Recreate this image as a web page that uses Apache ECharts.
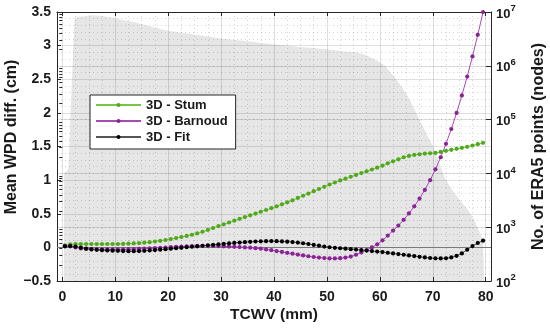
<!DOCTYPE html>
<html><head><meta charset="utf-8">
<script src="https://cdn.jsdelivr.net/npm/echarts@6/dist/echarts.min.js"></script>
<style>html,body{margin:0;padding:0;background:#fff}#c{width:550px;height:329px}</style>
</head><body><div id="c"></div>
<script>
const tcwv = [0.5,1.5,2.5,3.5,4.5,5.5,6.5,7.5,8.5,9.5,10.5,11.5,12.5,13.5,14.5,15.5,16.5,17.5,18.5,19.5,
  20.5,21.5,22.5,23.5,24.5,25.5,26.5,27.5,28.5,29.5,30.5,31.5,32.5,33.5,34.5,35.5,36.5,37.5,38.5,39.5,
  40.5,41.5,42.5,43.5,44.5,45.5,46.5,47.5,48.5,49.5,50.5,51.5,52.5,53.5,54.5,55.5,56.5,57.5,58.5,59.5,
  60.5,61.5,62.5,63.5,64.5,65.5,66.5,67.5,68.5,69.5,70.5,71.5,72.5,73.5,74.5,75.5,76.5,77.5,78.5,79.5];
const stum = [0.03,0.045,0.05,0.05,0.05,0.05,0.05,0.05,0.05,0.05,
  0.05,0.052,0.055,0.059,0.064,0.07,0.078,0.087,0.098,0.11,
  0.123,0.138,0.154,0.17,0.188,0.207,0.232,0.26,0.288,0.316,
  0.343,0.37,0.397,0.424,0.45,0.477,0.503,0.53,0.556,0.583,
  0.61,0.64,0.67,0.70,0.735,0.768,0.80,0.835,0.868,0.90,
  0.935,0.965,0.995,1.022,1.05,1.078,1.105,1.132,1.158,1.185,
  1.215,1.25,1.28,1.31,1.34,1.36,1.375,1.385,1.395,1.40,
  1.405,1.42,1.435,1.45,1.465,1.48,1.495,1.515,1.535,1.555];
const barnoud = [0.02,0.015,0.0,-0.015,-0.022,-0.025,-0.027,-0.028,-0.028,-0.028,
  -0.028,-0.028,-0.027,-0.025,-0.022,-0.019,-0.015,-0.011,-0.006,-0.002,
  0.003,0.008,0.012,0.016,0.019,0.022,0.024,0.024,0.022,0.019,
  0.015,0.012,0.008,0.004,0.0,-0.005,-0.012,-0.02,-0.03,-0.042,
  -0.055,-0.068,-0.081,-0.094,-0.107,-0.12,-0.132,-0.143,-0.152,-0.159,
  -0.164,-0.165,-0.161,-0.152,-0.137,-0.11,-0.075,-0.04,0.0,0.045,
  0.105,0.175,0.25,0.325,0.41,0.505,0.61,0.725,0.855,1.0,
  1.16,1.34,1.54,1.76,2.0,2.26,2.54,2.84,3.16,3.5];
const fit = [0.015,0.02,0.012,-0.005,-0.02,-0.03,-0.037,-0.042,-0.046,-0.049,
  -0.052,-0.055,-0.057,-0.057,-0.055,-0.051,-0.046,-0.04,-0.034,-0.027,
  -0.02,-0.013,-0.006,0.002,0.009,0.016,0.024,0.031,0.038,0.045,
  0.052,0.059,0.066,0.072,0.078,0.083,0.087,0.09,0.092,0.093,
  0.092,0.089,0.085,0.079,0.071,0.061,0.05,0.037,0.025,0.012,
  0.002,-0.006,-0.013,-0.02,-0.027,-0.033,-0.04,-0.047,-0.055,-0.063,
  -0.07,-0.08,-0.09,-0.1,-0.11,-0.12,-0.13,-0.14,-0.15,-0.158,
  -0.163,-0.165,-0.162,-0.15,-0.125,-0.09,-0.035,0.02,0.065,0.10];
const areaX = [0.3,0.35,1.15,1.6,2.3,4,5.5,7,8.5,10,12.5,15,17.5,20,25,30,35,40,45,50,53,55.5,57,58,59,60,
  61,62,63,64,65,66,67,68,69,70,71,72,73,74,75,76,77,78,79,79.5,79.7];
const areaCount = [100,1e4,1.2e4,1.6e5,7.8e6,8.3e6,8.7e6,8.5e6,8.1e6,7.6e6,6.8e6,6.0e6,5.1e6,4.5e6,3.8e6,3.2e6,
  2.85e6,2.5e6,2.24e6,2.04e6,1.86e6,1.78e6,1.62e6,1.48e6,1.32e6,1.17e6,
  1e6,7.6e5,5.8e5,4.2e5,3e5,2e5,1.26e5,7.9e4,5e4,3.3e4,1.8e4,9.5e3,6.2e3,4.4e3,3.3e3,2.5e3,1.85e3,1.25e3,750,500,100];
const xTicks = [0,10,20,30,40,50,60,70,80];
const xMinorTicks = [2.5,5,7.5,12.5,15,17.5,22.5,25,27.5,32.5,35,37.5,42.5,45,47.5,52.5,55,57.5,62.5,65,67.5,72.5,75,77.5];
const logMinorTicks = [200,300,400,500,600,700,800,900,2000,3000,4000,5000,6000,7000,8000,9000,
  2e4,3e4,4e4,5e4,6e4,7e4,8e4,9e4,2e5,3e5,4e5,5e5,6e5,7e5,8e5,9e5,2e6,3e6,4e6,5e6,6e6,7e6,8e6,9e6];
const seriesNames = ['3D - Stum','3D - Barnoud','3D - Fit'];

const F = "'Liberation Sans', Arial, Helvetica, sans-serif";
const AX = '#262626';
const GRID = 'rgba(0,0,0,0.12)';
const MINOR = 'rgba(0,0,0,0.16)';
const lbl = {color:'#1a1a1a', fontSize:14, fontWeight:'bold', fontFamily:F};
const nameStyle = {color:'#1a1a1a', fontSize:16, fontWeight:'bold', fontFamily:F};

const chart = echarts.init(document.getElementById('c'), null, {renderer:'canvas'});
chart.setOption({
  animation:false,
  backgroundColor:'#fff',
  grid:{left:57, right:59, top:12, bottom:48, containLabel:false, outerBoundsMode:'none'},
  legend:{
    data:seriesNames, orient:'vertical', left:90, top:95,
    itemWidth:45, itemHeight:5, itemGap:0, padding:[2,8,4,5],
    borderColor:AX, borderWidth:1, backgroundColor:'#fff',
    textStyle:{fontSize:13, fontWeight:'bold', color:'#1a1a1a', lineHeight:16, fontFamily:F},
    selectedMode:false, z:10
  },
  xAxis:[
    {type:'value', min:-1, max:81, position:'bottom', z:3, nameMoveOverlap:false,
     axisLine:{show:true, onZero:false, lineStyle:{color:AX}},
     axisTick:{show:true, inside:true, length:4, customValues:xTicks, lineStyle:{color:AX}},
     axisLabel:{customValues:xTicks, margin:9, ...lbl},
     splitLine:{show:true, lineStyle:{color:GRID}},
     name:'TCWV (mm)', nameLocation:'middle', nameGap:26, nameTextStyle:{...nameStyle, fontSize:15.5}},
    {type:'value', min:-1, max:81, position:'top', z:3,
     axisLine:{show:true, onZero:false, lineStyle:{color:AX}},
     axisTick:{show:true, inside:true, length:4, customValues:xTicks, lineStyle:{color:AX}},
     axisLabel:{show:false}, splitLine:{show:false}},
    {type:'value', min:-1, max:81, position:'bottom', z:3,
     axisLine:{show:false}, axisTick:{show:false, customValues:xMinorTicks},
     axisLabel:{show:false, customValues:xMinorTicks},
     splitLine:{show:true, lineStyle:{color:MINOR, type:[1,3]}}}
  ],
  yAxis:[
    {type:'value', min:-0.5, max:3.5, interval:0.5, position:'left', z:3, nameMoveOverlap:false,
     axisLine:{show:true, onZero:false, lineStyle:{color:AX}},
     axisTick:{show:true, inside:true, length:4, lineStyle:{color:AX}},
     axisLabel:{margin:6, ...lbl, formatter:v => (v < 0 ? '\u2212' + String(-v) : String(v))},
     splitLine:{show:true, lineStyle:{color:GRID}},
     minorTick:{show:false, splitNumber:5},
     minorSplitLine:{show:true, lineStyle:{color:MINOR, type:[1,3]}},
     name:'Mean WPD diff. (cm)', nameLocation:'middle', nameGap:37,
     nameTextStyle:{...nameStyle, padding:[0,0,0,19]}},
    {type:'log', logBase:10, min:100, max:1e7, position:'right', z:3, nameMoveOverlap:false,
     axisLine:{show:true, onZero:false, lineStyle:{color:AX}},
     axisTick:{show:true, inside:true, length:5, lineStyle:{color:AX}},
     axisLabel:{margin:5, formatter:v => '{b|10}{s|' + Math.round(Math.log10(v)) + '}',
       rich:{
         b:{fontSize:13, fontWeight:'bold', color:'#1a1a1a', fontFamily:F, verticalAlign:'bottom'},
         s:{fontSize:9.5, fontWeight:'bold', color:'#1a1a1a', fontFamily:F, verticalAlign:'bottom', padding:[0,0,7,0]}
       }},
     splitLine:{show:true, lineStyle:{color:GRID}},
     name:'No. of ERA5 points (nodes)', nameLocation:'middle', nameGap:40, nameRotate:90,
     nameTextStyle:{...nameStyle}},
    {type:'log', logBase:10, min:100, max:1e7, position:'right', z:3,
     axisLine:{show:false},
     axisTick:{show:true, inside:true, length:3, customValues:logMinorTicks, lineStyle:{color:AX}},
     axisLabel:{show:false}, splitLine:{show:false}}
  ],
  series:[
    {name:'count', type:'line', xAxisIndex:0, yAxisIndex:1, z:1, silent:true,
     data:areaX.map((x,i)=>[x, areaCount[i]]), symbol:'none', showSymbol:false,
     lineStyle:{width:0, opacity:0}, areaStyle:{color:'#e6e6e6', opacity:1, origin:'start'}},
    {name:seriesNames[0], type:'line', xAxisIndex:0, yAxisIndex:0, z:5,
     data:tcwv.map((x,i)=>[x, stum[i]]), symbol:'circle', symbolSize:4.2, showSymbol:true,
     lineStyle:{color:'#74c64a', width:1}, itemStyle:{color:'#52a81c'},
     markLine:{silent:true, symbol:'none', z:4, label:{show:false},
       lineStyle:{color:'#7a7a7a', width:1, type:'solid'}, data:[{yAxis:0}]}},
    {name:seriesNames[1], type:'line', xAxisIndex:0, yAxisIndex:0, z:5,
     data:tcwv.map((x,i)=>[x, barnoud[i]]), symbol:'circle', symbolSize:4.2, showSymbol:true,
     lineStyle:{color:'#a64bb4', width:1}, itemStyle:{color:'#8a2396'}},
    {name:seriesNames[2], type:'line', xAxisIndex:0, yAxisIndex:0, z:5,
     data:tcwv.map((x,i)=>[x, fit[i]]), symbol:'circle', symbolSize:4.2, showSymbol:true,
     lineStyle:{color:'#555555', width:1}, itemStyle:{color:'#000000'}}
  ]
});
</script></body></html>
